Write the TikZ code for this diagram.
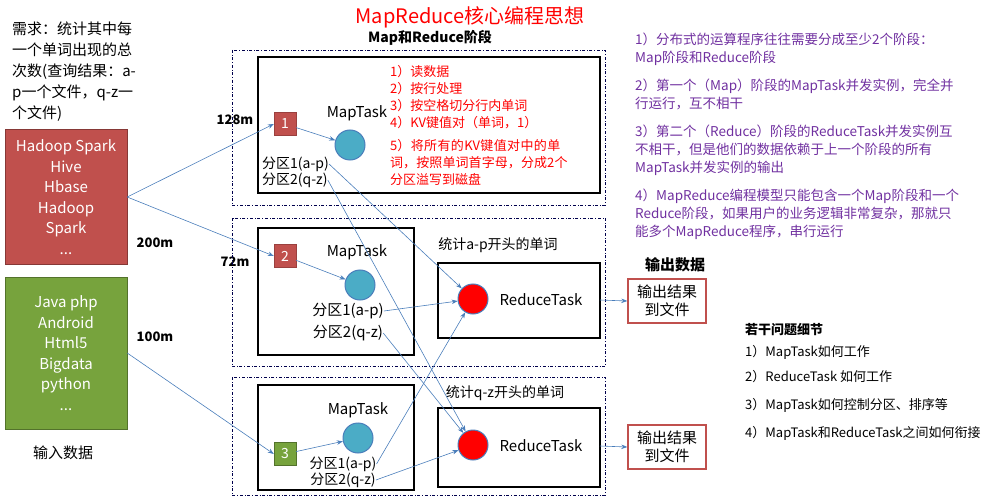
\documentclass[tikz,border=0pt]{standalone}
\usepackage{fontspec}
\setmainfont{Noto Sans CJK SC}
\XeTeXlinebreaklocale "zh"
\XeTeXlinebreakskip=0pt plus 1pt
\hyphenpenalty=10000
\exhyphenpenalty=10000
\usetikzlibrary{positioning,arrows.meta}
\definecolor{flowblue}{RGB}{74,126,187}
\definecolor{boxred}{RGB}{192,80,77}
\definecolor{boxgreen}{RGB}{119,163,61}
\definecolor{mapcirc}{RGB}{75,172,198}
\definecolor{notepurple}{RGB}{112,48,160}
\tikzset{
	flow/.style={draw=flowblue, -{Stealth[length=6pt]}, line width=0.6pt},
	stage/.style={draw=black!70!blue, dash dot, line width=0.8pt},
	taskbox/.style={draw=black, line width=1.6pt},
	split/.style={draw=boxred!80!black, fill=boxred, text=white, minimum width=22pt, minimum height=23pt, inner sep=0pt, font=\fontsize{14}{14}\selectfont},
	mapdot/.style={circle, draw=flowblue, line width=1pt, fill=mapcirc, minimum size=30pt, inner sep=0pt},
	reducedot/.style={circle, draw=flowblue, line width=1pt, fill=red, minimum size=30pt, inner sep=0pt},
	outbox/.style={draw=boxred, line width=1.5pt, minimum width=78pt, minimum height=44pt, align=center, inner sep=0pt, font=\fontsize{15}{18}\selectfont},
	lbl/.style={font=\fontsize{13}{14}\selectfont, inner sep=0pt},
}
\begin{document}
\begin{tikzpicture}[x=1pt, y=-1pt]
	\useasboundingbox (0,0) rectangle (999,500);
	% titles
	\node[text=red, font=\fontsize{20}{20}\selectfont] (title) at (470,17) {MapReduce核心编程思想};
	\node[font=\bfseries\fontsize{14}{14}\selectfont] (stagetitle) at (430,38) {Map和Reduce阶段};
	\node[anchor=north west, align=left, font=\fontsize{15}{21}\selectfont, inner sep=0pt] (need) at (12,22) {需求：统计其中每\\一个单词出现的总\\次数(查询结果：a-\\p一个文件，q-z一\\个文件)};
	% input data
	\node[draw=boxred!70!black, fill=boxred, text=white, minimum width=122pt, minimum height=135pt, align=center, font=\fontsize{15}{20.5}\selectfont] (inred) at (66,197) {Hadoop Spark\\Hive\\Hbase\\Hadoop\\Spark\\...};
	\node[draw=boxgreen!70!black, fill=boxgreen, text=white, minimum width=122pt, minimum height=152pt, align=center, font=\fontsize{15}{20.5}\selectfont] (ingreen) at (66,353) {Java php\\Android\\Html5\\Bigdata\\python\\...};
	\node[font=\fontsize{15}{15}\selectfont] (indata) at (63,453) {输入数据};
	\node[font=\bfseries\fontsize{13}{13}\selectfont] (s200) at (155,243) {200m};
	\node[font=\bfseries\fontsize{13}{13}\selectfont] (s100) at (155,337) {100m};
	\node[font=\bfseries\fontsize{13}{13}\selectfont] (s128) at (235,120) {128m};
	\node[font=\bfseries\fontsize{13}{13}\selectfont] (s72) at (235,262) {72m};
	% stage frames
	\draw[stage] (232,50) rectangle (605,205);
	\draw[stage] (232,218) rectangle (605,366);
	\draw[stage] (232,377) rectangle (605,495);
	\draw[taskbox] (258,57) rectangle (600,193);
	\draw[taskbox] (258,228) rectangle (414,355);
	\draw[taskbox] (258,385) rectangle (414,490);
	\draw[taskbox] (438,263) rectangle (600,338);
	\draw[taskbox] (438,408) rectangle (600,487);
	% map task 1
	\node[split] (sp1) at (285,124) {1};
	\node[mapdot] (mt1) at (350,145) {};
	\node[lbl, font=\fontsize{15}{15}\selectfont] (mtl1) at (357,113) {MapTask};
	\node[lbl, anchor=west, font=\fontsize{14}{14}\selectfont] (p11) at (262,164) {分区1(a-p)};
	\node[lbl, anchor=west, font=\fontsize{14}{14}\selectfont] (p12) at (262,180) {分区2(q-z)};
	\node[anchor=north west, align=left, text=red, text width=180pt, inner sep=0pt, font=\fontsize{13}{17}\selectfont] (steps) at (390,65) {1）读数据\\2）按行处理\\3）按空格切分行内单词\\4）KV键值对（单词，1）\\[6pt]5）将所有的KV键值对中的单词，按照单词首字母，分成2个分区溢写到磁盘};
	% map task 2
	\node[split] (sp2) at (285,256) {2};
	\node[mapdot] (mt2) at (360,285) {};
	\node[lbl, font=\fontsize{15}{15}\selectfont] (mtl2) at (357,252) {MapTask};
	\node[lbl, font=\fontsize{15}{15}\selectfont] (p21) at (348,311) {分区1(a-p)};
	\node[lbl, font=\fontsize{15}{15}\selectfont] (p22) at (348,333) {分区2(q-z)};
	% map task 3
	\node[split, fill=boxgreen, draw=boxgreen!70!black] (sp3) at (285,454) {3};
	\node[mapdot] (mt3) at (358,438) {};
	\node[lbl, font=\fontsize{15}{15}\selectfont] (mtl3) at (358,410) {MapTask};
	\node[lbl, font=\fontsize{14}{14}\selectfont] (p31) at (343,464) {分区1(a-p)};
	\node[lbl, font=\fontsize{14}{14}\selectfont] (p32) at (343,480) {分区2(q-z)};
	% reduce tasks
	\node[lbl, font=\fontsize{14}{14}\selectfont] (cnt1) at (498,245) {统计a-p开头的单词};
	\node[lbl, font=\fontsize{14}{14}\selectfont] (cnt2) at (505,393) {统计q-z开头的单词};
	\node[reducedot] (rt1) at (473,299) {};
	\node[reducedot] (rt2) at (473,445) {};
	\node[lbl, font=\fontsize{15}{15}\selectfont] (rtl1) at (541,300) {ReduceTask};
	\node[lbl, font=\fontsize{15}{15}\selectfont] (rtl2) at (541,446) {ReduceTask};
	\coordinate (rb1) at (600,300);
	\coordinate (rb2) at (600,446);
	% output
	\node[font=\bfseries\fontsize{15}{15}\selectfont] (outdata) at (675,265) {输出数据};
	\node[outbox] (out1) at (667,301) {输出结果\\到文件};
	\node[outbox] (out2) at (667,447) {输出结果\\到文件};
	% notes
	\node[anchor=north west, align=left, text=notepurple, inner sep=0pt, font=\fontsize{13.5}{18}\selectfont] (notes) at (635,33) {1）分布式的运算程序往往需要分成至少2个阶段：\\Map阶段和Reduce阶段\\[10pt]2）第一个（Map）阶段的MapTask并发实例，完全并\\行运行，互不相干\\[10pt]3）第二个（Reduce）阶段的ReduceTask并发实例互\\不相干，但是他们的数据依赖于上一个阶段的所有\\MapTask并发实例的输出\\[10pt]4）MapReduce编程模型只能包含一个Map阶段和一个\\Reduce阶段，如果用户的业务逻辑非常复杂，那就只\\能多个MapReduce程序，串行运行};
	\node[anchor=west, font=\bfseries\fontsize{13}{13}\selectfont, inner sep=0pt] (qtitle) at (745,330) {若干问题细节};
	\node[anchor=west, lbl] (q1) at (745,352) {1）MapTask如何工作};
	\node[anchor=west, lbl] (q2) at (745,377) {2）ReduceTask 如何工作};
	\node[anchor=west, lbl] (q3) at (745,405) {3）MapTask如何控制分区、排序等};
	\node[anchor=west, lbl] (q4) at (745,433) {4）MapTask和ReduceTask之间如何衔接};
	% connectors
	\draw[flow] (inred.east) -- (sp1.west);
	\draw[flow] (inred.east) -- (sp2.west);
	\draw[flow] (ingreen.east) -- (sp3.west);
	\draw[flow] (sp1) -- (mt1);
	\draw[flow] (sp2) -- (mt2);
	\draw[flow] (sp3) -- (mt3);
	\draw[flow] (p11.east) -- (rt1);
	\draw[flow] (p12.east) -- (rt2);
	\draw[flow] (p21.east) -- (rt1);
	\draw[flow] (p22.east) -- (rt2);
	\draw[flow] (p31.east) -- (rt1);
	\draw[flow] (p32.east) -- (rt2);
	\draw[flow] (rb1) -- (out1.west);
	\draw[flow] (rb2) -- (out2.west);
\end{tikzpicture}
\end{document}
